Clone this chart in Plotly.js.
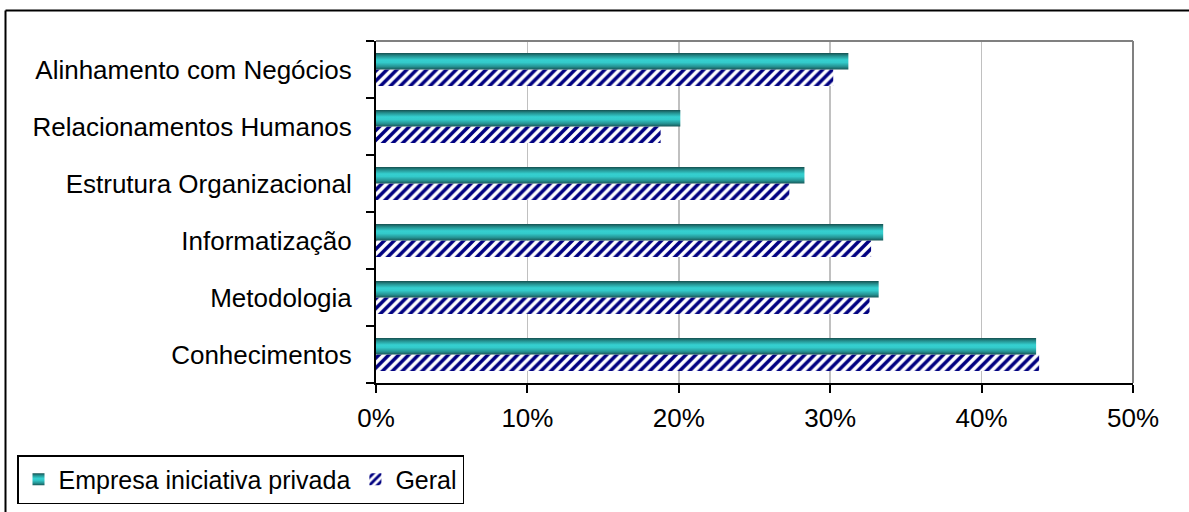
<!DOCTYPE html>
<html>
<head>
<meta charset="utf-8">
<script src="https://cdn.plot.ly/plotly-3.0.1.min.js"></script>
<style>
  html, body { margin: 0; padding: 0; background: #ffffff; }
  #chart { width: 1189px; height: 512px; }
</style>
</head>
<body>
<div id="chart"></div>
<script>
// Categories listed bottom to top
const categories = [
  'Conhecimentos',
  'Metodologia',
  'Informatização',
  'Estrutura Organizacional',
  'Relacionamentos Humanos',
  'Alinhamento com Negócios'
];

// Share of answers (%)
const empresaValues = [43.6, 33.2, 33.5, 28.3, 20.1, 31.2];
const geralValues   = [43.8, 32.6, 32.7, 27.3, 18.8, 30.2];

const seriesNames = ['Empresa iniciativa privada', 'Geral'];
const xTickValues = [0, 10, 20, 30, 40, 50];
const xTickLabels = ['0%', '10%', '20%', '30%', '40%', '50%'];

const FONT = 'Liberation Sans, Arial, sans-serif';
const FS = 26;

// Plot area in pixels: left 376, right 1133, top 41, bottom 383
const L = 376, R = 56, T = 41, B = 129;
const W = 1189, H = 512;
const PW = W - L - R, PH = H - T - B;
const px = x => (x - L) / PW;
const py = y => (H - B - y) / PH;

const traces = [
  {
    type: 'bar', orientation: 'h', name: seriesNames[1],
    y: categories, x: geralValues,
    marker: {
      color: '#ffffff',
      pattern: { shape: '/', fgcolor: '#000080', bgcolor: '#ffffff', size: 7, solidity: 0.5 },
      line: { width: 0 }
    }
  },
  {
    type: 'bar', orientation: 'h', name: seriesNames[0],
    y: categories, x: empresaValues,
    marker: { color: '#33c6c6', line: { width: 0 } }
  }
];

const layout = {
  width: W, height: H,
  margin: { l: L, r: R, t: T, b: B, pad: 0, autoexpand: false },
  paper_bgcolor: '#ffffff', plot_bgcolor: '#ffffff',
  font: { family: FONT, size: FS, color: '#000000' },
  barmode: 'group', bargap: 0.42, bargroupgap: 0,
  showlegend: true,
  legend: {
    orientation: 'h', traceorder: 'reversed',
    x: px(17), xanchor: 'left', y: py(455), yanchor: 'top',
    bordercolor: '#000000', borderwidth: 1.5, bgcolor: '#ffffff',
    font: { family: FONT, size: 25, color: '#000000' },
    itemwidth: 30
  },
  xaxis: {
    range: [0, 50], tickmode: 'array', tickvals: xTickValues, ticktext: xTickLabels,
    showgrid: true, gridcolor: '#c0c0c0', gridwidth: 1.5,
    zeroline: false, showline: true, linecolor: '#000000', linewidth: 2,
    ticks: 'outside', ticklen: 8, tickwidth: 2, tickcolor: '#000000',
    ticklabelstandoff: 3, fixedrange: true, automargin: false
  },
  yaxis: {
    type: 'category', categoryorder: 'array', categoryarray: categories,
    showgrid: false, zeroline: false, showline: true, linecolor: '#000000', linewidth: 2,
    ticks: 'outside', tickson: 'boundaries', ticklen: 8, tickwidth: 2, tickcolor: '#000000',
    ticklabelstandoff: 17, fixedrange: true, automargin: false
  },
  shapes: [
    // gray frame on top and right of the plot area
    { type: 'line', xref: 'paper', yref: 'paper', x0: 0, x1: 1, y0: 1, y1: 1,
      line: { color: '#808080', width: 2 } },
    { type: 'line', xref: 'paper', yref: 'paper', x0: 1, x1: 1, y0: 0, y1: 1,
      line: { color: '#808080', width: 2 } },
    // outer chart border (top and left edges)
    { type: 'line', xref: 'paper', yref: 'paper', x0: px(5.5), x1: px(1200), y0: py(10.5), y1: py(10.5),
      line: { color: '#000000', width: 2 } },
    { type: 'line', xref: 'paper', yref: 'paper', x0: px(5.5), x1: px(5.5), y0: py(10.5), y1: py(530),
      line: { color: '#000000', width: 2 } }
  ]
};

const gd = document.getElementById('chart');
Plotly.newPlot(gd, traces, layout, { staticPlot: true, displayModeBar: false }).then(() => {
  // cylinder-like shading on the teal series
  const svgNS = 'http://www.w3.org/2000/svg';
  const defs = gd.querySelector('svg.main-svg defs');
  const grad = document.createElementNS(svgNS, 'linearGradient');
  grad.setAttribute('id', 'tealShade');
  grad.setAttribute('x1', '0'); grad.setAttribute('y1', '0');
  grad.setAttribute('x2', '0'); grad.setAttribute('y2', '1');
  [['0%', '#154f4f'], ['18%', '#24908f'], ['42%', '#35d0d0'], ['58%', '#33caca'], ['82%', '#259393'], ['100%', '#175757']]
    .forEach(([off, col]) => {
      const s = document.createElementNS(svgNS, 'stop');
      s.setAttribute('offset', off); s.setAttribute('stop-color', col);
      grad.appendChild(s);
    });
  defs.appendChild(grad);

  gd.querySelectorAll('.barlayer .trace.bars').forEach(g => {
    const d = g.__data__;
    const name = d && d[0] && d[0].trace ? d[0].trace.name : null;
    if (name === seriesNames[0]) {
      g.querySelectorAll('path').forEach(p => { p.style.fill = 'url(#tealShade)'; });
    }
  });
  gd.querySelectorAll('.legend .traces').forEach(g => {
    const d = g.__data__;
    const name = d && d[0] && d[0][0] ? d[0][0].trace.name : (d && d[0] && d[0].trace ? d[0].trace.name : null);
    if (name === seriesNames[0]) {
      g.querySelectorAll('.legendpoints path').forEach(p => { p.style.fill = 'url(#tealShade)'; });
    }
  });
});
</script>
</body>
</html>
